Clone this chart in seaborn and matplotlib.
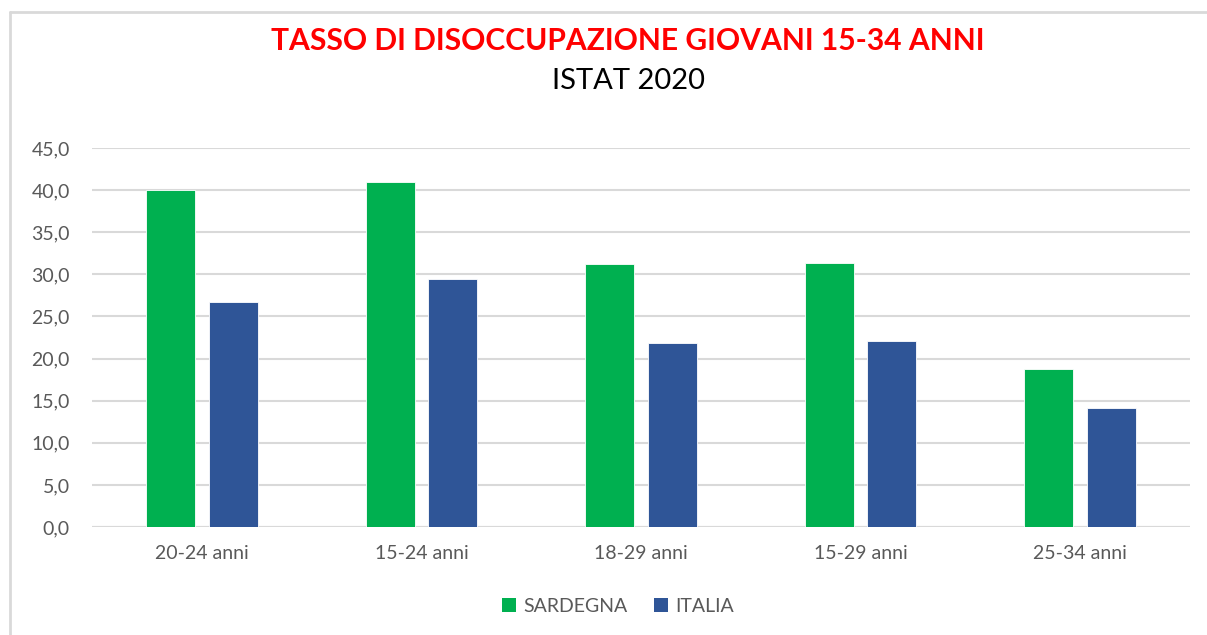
import matplotlib
matplotlib.use("Agg")
import matplotlib.pyplot as plt
import seaborn as sns
import pandas as pd
from matplotlib.lines import Line2D
from matplotlib.patches import Patch

categories = ["20-24 anni", "15-24 anni", "18-29 anni", "15-29 anni", "25-34 anni"]
sardegna = [40.0, 41.0, 31.2, 31.4, 18.8]
italia = [26.7, 29.4, 21.9, 22.1, 14.1]
series = ["SARDEGNA", "ITALIA"]
yticks = [0, 5, 10, 15, 20, 25, 30, 35, 40, 45]

colors = {"SARDEGNA": "#00B050", "ITALIA": "#2F5597"}

df = pd.DataFrame({
    "cat": categories * 2,
    "serie": [series[0]] * len(categories) + [series[1]] * len(categories),
    "val": sardegna + italia,
})

sns.set_style("white")
plt.rcParams['font.family'] = ['Lato', 'DejaVu Sans']

W, H = 1207, 635
fig = plt.figure(figsize=(W / 100, H / 100), dpi=100)
ax = fig.add_axes([92 / W, 1 - 527 / H, (1190 - 92) / W, (527 - 148) / H])

sns.barplot(data=df, x="cat", y="val", hue="serie", order=categories,
            hue_order=series, palette=colors, saturation=1, width=0.569, gap=0.216,
            edgecolor="white", linewidth=0.6, ax=ax, legend=False, zorder=3)

ax.set_ylim(0, 45)
ax.set_xlim(-0.5, len(categories) - 0.5)
ax.set_yticks(yticks)
ax.set_yticklabels([f"{v:.1f}".replace(".", ",") for v in yticks])
ax.yaxis.grid(True, color="#d9d9d9", linewidth=1.5, zorder=0)
ax.set_axisbelow(True)
for s in ax.spines.values():
    s.set_visible(False)
ax.axhline(0, color="#d9d9d9", linewidth=1.5, zorder=1)
ax.set_xlabel("")
ax.set_ylabel("")
ax.tick_params(axis="both", length=0, labelsize=14, labelcolor="#595959")
ax.tick_params(axis="x", pad=13)
ax.tick_params(axis="y", pad=16)

cx = 628 / W
fig.text(cx, 1 - 41 / H, "TASSO DI DISOCCUPAZIONE GIOVANI 15-34 ANNI",
         ha="center", va="center", color="#FF0000", fontsize=21.6, fontweight="bold")
fig.text(cx, 1 - 81 / H, "ISTAT 2020", ha="center", va="center",
         color="#000000", fontsize=21)

handles = [Patch(facecolor=colors[s], edgecolor="none") for s in series]
fig.legend(handles, series, loc="center", bbox_to_anchor=(618 / W, 1 - 606 / H),
           ncol=2, frameon=False, fontsize=14, handlelength=0.7, handleheight=0.7,
           handletextpad=0.35, columnspacing=1.4, labelcolor="#595959")

fig.add_artist(Line2D([10 / W, 1.0], [1 - 12 / H, 1 - 12 / H], transform=fig.transFigure,
                      color="#d9d9d9", linewidth=2))
fig.add_artist(Line2D([10 / W, 10 / W], [1 - 12 / H, 0], transform=fig.transFigure,
                      color="#d9d9d9", linewidth=2))

fig.savefig("out.png", dpi=100)
